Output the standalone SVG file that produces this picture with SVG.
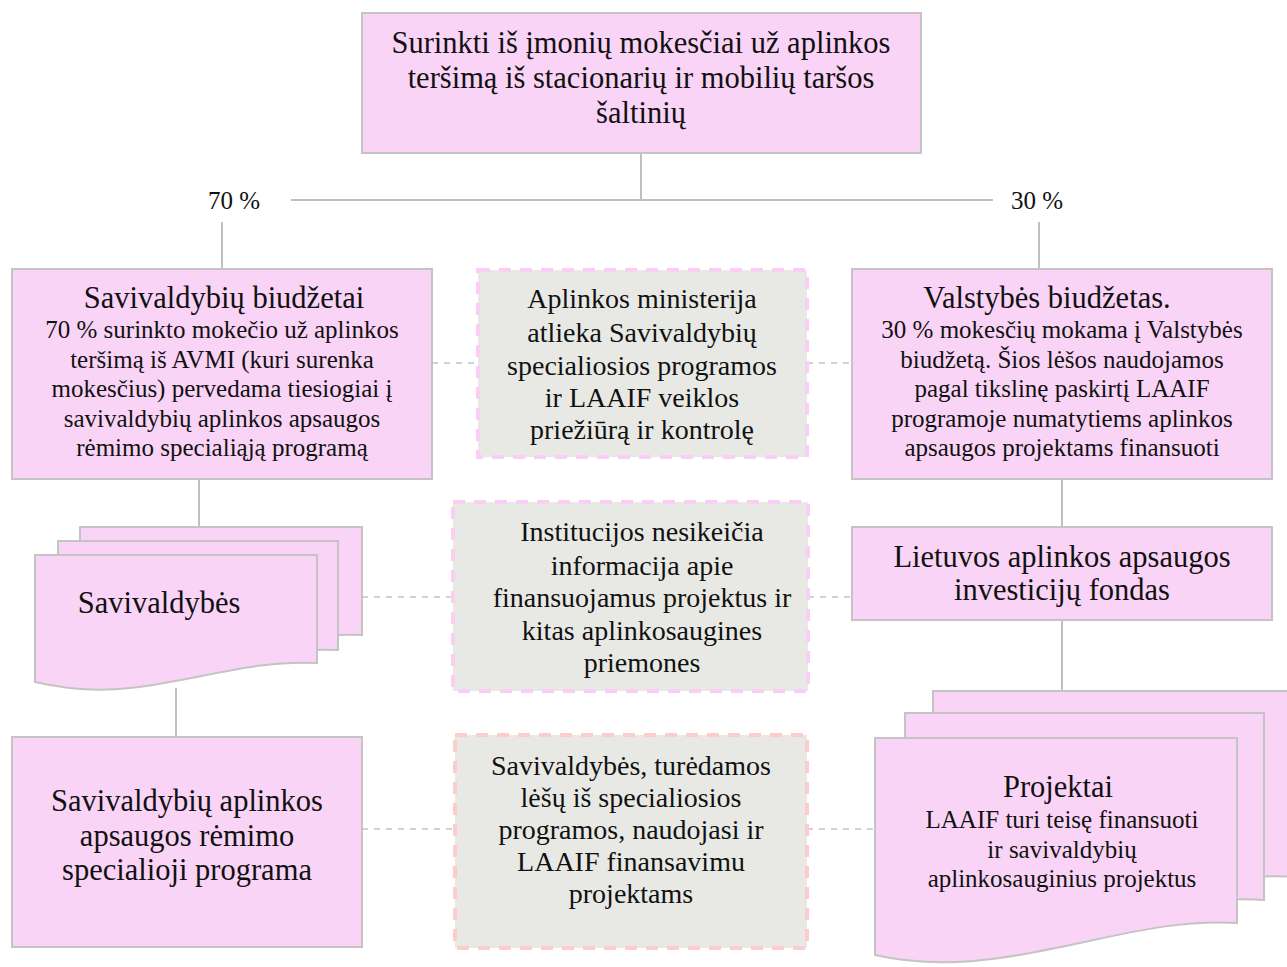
<svg xmlns="http://www.w3.org/2000/svg" width="1287" height="967" viewBox="0 0 1287 967">
<style>
.box{fill:#fad4f6;stroke:#c4c4c4;stroke-width:2}
.note{fill:#e8e9e5;stroke:#fbcff4;stroke-width:4;stroke-dasharray:12 9}
.note2{fill:#e8e9e5;stroke:#fdcdce;stroke-width:4;stroke-dasharray:12 9}
.ln{fill:none;stroke:#c0c0c0;stroke-width:2}
.dl{fill:none;stroke:#c4c4c4;stroke-width:1.5;stroke-dasharray:6 6}
text{font-family:"Liberation Serif","Times New Roman",serif;fill:#111;text-anchor:middle}
.t30{font-size:30.5px}
.t28{font-size:28px}
.t25{font-size:25px}
</style>
<g id="connectors">
<path class="ln" d="M641,153 V200 M291,200 H993 M222,222 V269 M1039,222 V269 M199,479 V527 M1062,479 V527 M1062,620 V691 M176,688 V737"/>
<path class="dl" d="M432,363 H478 M807,363 H852 M362,597 H453 M808,597 H852 M362,829 H455 M807,829 H875"/>
</g>
<g id="label70"><text class="t25" x="234" y="209">70 %</text></g>
<g id="label30"><text class="t25" x="1037" y="209">30 %</text></g>
<g id="top">
<rect class="box" x="362" y="13" width="559" height="140"/>
<text class="t30"><tspan x="641" y="53">Surinkti iš įmonių mokesčiai už aplinkos</tspan><tspan x="641" y="88">teršimą iš stacionarių ir mobilių taršos</tspan><tspan x="641" y="123">šaltinių</tspan></text>
</g>
<g id="savivaldybiu-biudzetai">
<rect class="box" x="12" y="269" width="420" height="210"/>
<text class="t30" x="224" y="308">Savivaldybių biudžetai</text>
<text class="t25"><tspan x="222" y="338">70 % surinkto mokečio už aplinkos</tspan><tspan x="222" y="368">teršimą iš AVMI (kuri surenka</tspan><tspan x="222" y="397">mokesčius) pervedama tiesiogiai į</tspan><tspan x="222" y="427">savivaldybių aplinkos apsaugos</tspan><tspan x="222" y="456">rėmimo specialiąją programą</tspan></text>
</g>
<g id="aplinkos-ministerija">
<rect class="note" x="478" y="270" width="329" height="187"/>
<text class="t28"><tspan x="642" y="308">Aplinkos ministerija</tspan><tspan x="642" y="342">atlieka Savivaldybių</tspan><tspan x="642" y="375">specialiosios programos</tspan><tspan x="642" y="407">ir LAAIF veiklos</tspan><tspan x="642" y="439">priežiūrą ir kontrolę</tspan></text>
</g>
<g id="valstybes-biudzetas">
<rect class="box" x="852" y="269" width="420" height="210"/>
<text class="t30" x="1047" y="308">Valstybės biudžetas.</text>
<text class="t25"><tspan x="1062" y="338">30 % mokesčių mokama į Valstybės</tspan><tspan x="1062" y="368">biudžetą. Šios lėšos naudojamos</tspan><tspan x="1062" y="397">pagal tikslinę paskirtį LAAIF</tspan><tspan x="1062" y="427">programoje numatytiems aplinkos</tspan><tspan x="1062" y="456">apsaugos projektams finansuoti</tspan></text>
</g>
<g id="savivaldybes">
<path class="box" d="M80,527 H362 V635 C300,632 250,650 180,656 C140,660 110,658 80,654 Z"/>
<path class="box" d="M58,541 H338 V650 C280,647 230,665 160,671 C120,675 90,673 58,668 Z"/>
<path class="box" d="M35,555 H317 V663 C250,660 200,680 130,688 C95,692 65,689 35,682 Z"/>
<text class="t30" x="159" y="613">Savivaldybės</text>
</g>
<g id="institucijos">
<rect class="note" x="453" y="502" width="355" height="189"/>
<text class="t28"><tspan x="642" y="541">Institucijos nesikeičia</tspan><tspan x="642" y="575">informacija apie</tspan><tspan x="642" y="607">finansuojamus projektus ir</tspan><tspan x="642" y="640">kitas aplinkosaugines</tspan><tspan x="642" y="672">priemones</tspan></text>
</g>
<g id="laaif">
<rect class="box" x="852" y="527" width="420" height="93"/>
<text class="t30"><tspan x="1062" y="567">Lietuvos aplinkos apsaugos</tspan><tspan x="1062" y="600">investicijų fondas</tspan></text>
</g>
<g id="specialioji-programa">
<rect class="box" x="12" y="737" width="350" height="210"/>
<text class="t30"><tspan x="187" y="811">Savivaldybių aplinkos</tspan><tspan x="187" y="846">apsaugos rėmimo</tspan><tspan x="187" y="880">specialioji programa</tspan></text>
</g>
<g id="savivaldybes-turedamos">
<rect class="note2" x="455" y="735" width="352" height="213"/>
<text class="t28"><tspan x="631" y="775">Savivaldybės, turėdamos</tspan><tspan x="631" y="807">lėšų iš specialiosios</tspan><tspan x="631" y="839">programos, naudojasi ir</tspan><tspan x="631" y="871">LAAIF finansavimu</tspan><tspan x="631" y="903">projektams</tspan></text>
</g>
<g id="projektai">
<path class="box" d="M933,691 H1296 V877 C1220,872 1150,895 1060,910 C1010,917 970,916 933,910 Z"/>
<path class="box" d="M905,713 H1264 V900 C1190,895 1120,918 1030,933 C980,940 940,939 905,933 Z"/>
<path class="box" d="M875,738 H1237 V923 C1160,918 1090,945 1000,958 C950,965 910,963 875,955 Z"/>
<text class="t30" x="1058" y="797">Projektai</text>
<text class="t25"><tspan x="1062" y="828">LAAIF turi teisę finansuoti</tspan><tspan x="1062" y="858">ir savivaldybių</tspan><tspan x="1062" y="887">aplinkosauginius projektus</tspan></text>
</g>
</svg>
